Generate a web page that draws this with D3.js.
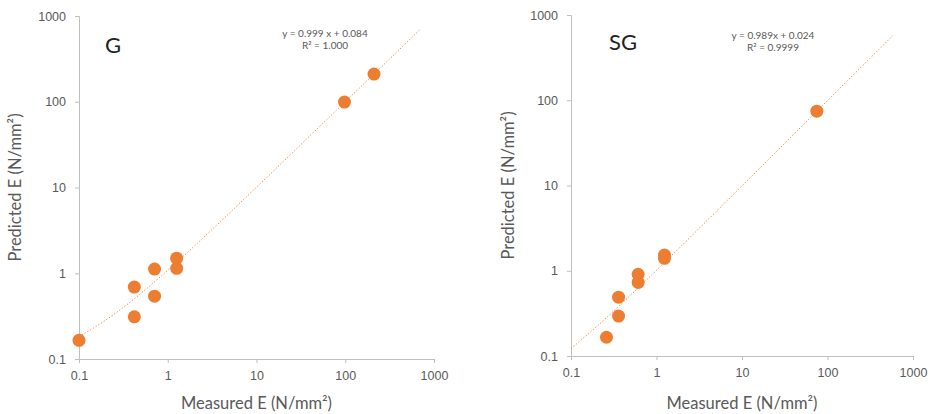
<!DOCTYPE html>
<html>
<head>
<meta charset="utf-8">
<script src="https://cdn.jsdelivr.net/npm/d3@7"></script>
<style>
  body { margin: 0; background: #fff; }
  svg { font-family: Lato, "Open Sans", sans-serif; }
  .tick text { fill: #595959; font-size: 12.5px; }
  .axis path, .axis line { stroke: #bfbfbf; }
  .title { fill: #595959; font-size: 16.5px; }
</style>
</head>
<body>
<svg id="Vis" width="930" height="414"></svg>
<script>
/*
* DATA
*/
const tickValues = [0.1, 1, 10, 100, 1000];
const tickLabels = ["0.1", "1", "10", "100", "1000"];

// panel G
const gMeasured = [0.1, 0.42, 0.42, 0.71, 0.71, 1.26, 1.26, 98, 211];
const gPredicted = [0.165, 0.69, 0.31, 1.12, 0.54, 1.5, 1.14, 99, 210];
const gFit = { slope: 0.999, intercept: 0.084, xEnd: 700 };
const gEquation = ["y = 0.999 x + 0.084", "R² = 1.000"];

// panel SG
const sgMeasured = [0.26, 0.36, 0.36, 0.61, 0.61, 1.24, 1.24, 75];
const sgPredicted = [0.166, 0.49, 0.294, 0.91, 0.73, 1.53, 1.4, 74.5];
const sgFit = { slope: 0.989, intercept: 0.024, xEnd: 580 };
const sgEquation = ["y = 0.989x + 0.024", "R² = 0.9999"];

/*
* SETUP
*/
const svg = d3.select("svg#Vis");

const panels = [
  { name: "G", measured: gMeasured, predicted: gPredicted, fit: gFit, eq: gEquation,
    left: 79, right: 434, top: 16, bottom: 359, nameX: 113, nameY: 53, eqX: 325, eqY: 37, yTitleX: 21 },
  { name: "SG", measured: sgMeasured, predicted: sgPredicted, fit: sgFit, eq: sgEquation,
    left: 571, right: 913, top: 15, bottom: 356, nameX: 623, nameY: 50, eqX: 773, eqY: 39, yTitleX: 514 }
];

panels.forEach(drawPanel);

/*
* PANEL DRAWING
*/
function drawPanel(p) {
  const g = svg.append("g");

  const x = d3.scaleLog().domain([0.1, 1000]).range([p.left, p.right]);
  const y = d3.scaleLog().domain([0.1, 1000]).range([p.bottom, p.top]);

  const xAxis = d3.axisBottom(x)
    .tickValues(tickValues)
    .tickFormat((d, i) => tickLabels[i])
    .tickSizeOuter(0)
    .tickSize(4)
    .tickPadding(8);

  const yAxis = d3.axisLeft(y)
    .tickValues(tickValues)
    .tickFormat((d, i) => tickLabels[i])
    .tickSizeOuter(0)
    .tickSize(4)
    .tickPadding(9);

  g.append("g")
    .attr("class", "axis")
    .attr("transform", translate(0, p.bottom))
    .call(xAxis);

  g.append("g")
    .attr("class", "axis")
    .attr("transform", translate(p.left, 0))
    .call(yAxis);

  /* trend line */
  const fitX = d3.range(0, 61).map(i => 0.1 * Math.pow(p.fit.xEnd / 0.1, i / 60));
  const line = d3.line()
    .x(d => x(d))
    .y(d => y(p.fit.slope * d + p.fit.intercept));

  g.append("path")
    .datum(fitX)
    .attr("d", line)
    .attr("fill", "none")
    .attr("stroke", "#ED7D31")
    .attr("stroke-width", 1)
    .attr("stroke-dasharray", "1.2,2");

  /* points */
  g.selectAll("circle.pt")
    .data(p.measured.map((m, i) => [m, p.predicted[i]]))
    .join("circle")
      .attr("class", "pt")
      .attr("cx", d => x(d[0]))
      .attr("cy", d => y(d[1]))
      .attr("r", 6.5)
      .attr("fill", "#ED7D31");

  /* labels */
  g.append("text")
    .attr("x", p.nameX)
    .attr("y", p.nameY)
    .attr("text-anchor", "middle")
    .attr("font-size", 22)
    .attr("fill", "#222")
    .text(p.name);

  g.selectAll("text.eq")
    .data(p.eq)
    .join("text")
      .attr("class", "eq")
      .attr("x", p.eqX)
      .attr("y", (d, i) => p.eqY + i * 12)
      .attr("text-anchor", "middle")
      .attr("font-size", 10)
      .attr("fill", "#595959")
      .text(d => d);

  g.append("text")
    .attr("class", "title")
    .attr("x", (p.left + p.right) / 2)
    .attr("y", 409)
    .attr("text-anchor", "middle")
    .text("Measured E (N/mm²)");

  g.append("text")
    .attr("class", "title")
    .attr("transform", translate(p.yTitleX, (p.top + p.bottom) / 2) + " rotate(-90)")
    .attr("text-anchor", "middle")
    .text("Predicted E (N/mm²)");
}

/*
* HELPER FUNCTIONS
*/
function translate(x, y) {
  return 'translate(' + String(x) + ',' + String(y) + ')';
}
</script>
</body>
</html>
